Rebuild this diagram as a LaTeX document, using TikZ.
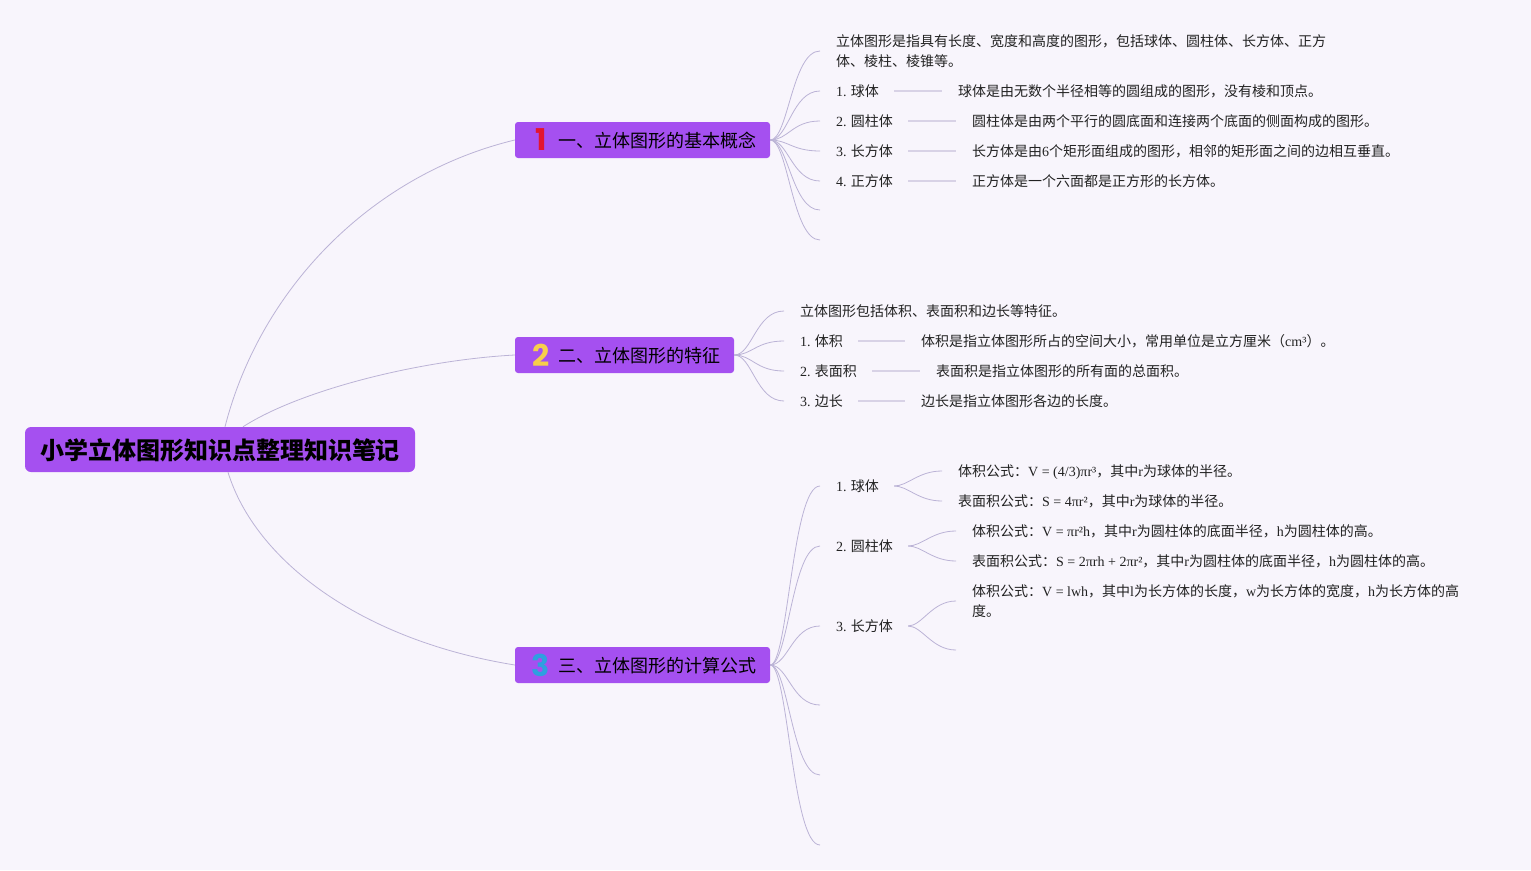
\documentclass[tikz,border=0pt]{standalone}
\usepackage{fontspec}
\setmainfont{Noto Sans CJK SC}
\newfontfamily\lat{Liberation Serif}
\newfontfamily\numfont{Poppins}
\usetikzlibrary{calc}
\definecolor{bg}{HTML}{F8F5FC}
\definecolor{boxc}{HTML}{A550F0}
\definecolor{linec}{HTML}{BBB3D6}
\definecolor{dashc}{HTML}{D8D2E6}
\definecolor{txt}{HTML}{222222}
\definecolor{numA}{HTML}{E3152F}
\definecolor{numB}{HTML}{F7CF4B}
\definecolor{numC}{HTML}{2E9FE0}
\begin{document}
\begin{tikzpicture}[x=1pt,y=-1pt,
 rootbox/.style={fill=boxc, rounded corners=6pt, minimum width=390pt, minimum height=45pt, inner sep=0pt,
   font=\fontsize{24}{28}\selectfont\bfseries, text=black, text height=19pt, text depth=0pt},
 branchbox/.style={fill=boxc, rounded corners=3pt, minimum height=36pt, inner sep=0pt},
 branchtxt/.style={anchor=west, inner sep=0pt, font=\fontsize{18}{22}\selectfont, text=black, text height=14.4pt, text depth=0pt},
 numtxt/.style={inner sep=0pt, font=\numfont\bfseries\fontsize{30}{30}\selectfont},
 leaf/.style={anchor=west, inner sep=0pt, font=\fontsize{14}{20}\selectfont, text=txt, align=left, text height=11.2pt, text depth=0pt},
 conn/.style={draw=linec, line width=0.8pt},
 dashline/.style={draw=dashc, line width=1.6pt},
]
\fill[bg] (0,0) rectangle (1531,870);
\useasboundingbox (0,0) rectangle (1531,870);

% root
\node[rootbox] (root) at (220,449.5) {小学立体图形知识点整理知识笔记};

% branches
\node[branchbox, minimum width=255pt] (b1) at (642.5,140) {};
\node[numtxt, text=numA] (n1) at (541,140) {1};
\node[branchtxt] (l1) at (558,140) {一、立体图形的基本概念};

\node[branchbox, minimum width=219pt] (b2) at (624.5,355) {};
\node[numtxt, text=numB] (n2) at (541,355) {2};
\node[branchtxt] (l2) at (558,355) {二、立体图形的特征};

\node[branchbox, minimum width=255pt] (b3) at (642.5,665) {};
\node[numtxt, text=numC] (n3) at (541,665) {3};
\node[branchtxt] (l3) at (558,665) {三、立体图形的计算公式};

% branch 1 children
\node[leaf] (c10) at (836,61) {立体图形是指具有长度、宽度和高度的图形，包括球体、圆柱体、长方体、正方\\体、棱柱、棱锥等。};
\node[leaf] (c11) at (836,91) {{\lat 1.} 球体};
\node[leaf] (t11) at (958,91) {球体是由无数个半径相等的圆组成的图形，没有棱和顶点。};
\node[leaf] (c12) at (836,121) {{\lat 2.} 圆柱体};
\node[leaf] (t12) at (972,121) {圆柱体是由两个平行的圆底面和连接两个底面的侧面构成的图形。};
\node[leaf] (c13) at (836,151) {{\lat 3.} 长方体};
\node[leaf] (t13) at (972,151) {长方体是由{\lat 6}个矩形面组成的图形，相邻的矩形面之间的边相互垂直。};
\node[leaf] (c14) at (836,181) {{\lat 4.} 正方体};
\node[leaf] (t14) at (972,181) {正方体是一个六面都是正方形的长方体。};
\coordinate (e15) at (820,210);
\coordinate (e16) at (820,240);

% branch 2 children
\node[leaf] (d10) at (800,311) {立体图形包括体积、表面积和边长等特征。};
\node[leaf] (d11) at (800,341) {{\lat 1.} 体积};
\node[leaf] (u11) at (921,341) {体积是指立体图形所占的空间大小，常用单位是立方厘米（{\lat cm³}）。};
\node[leaf] (d12) at (800,371) {{\lat 2.} 表面积};
\node[leaf] (u12) at (936,371) {表面积是指立体图形的所有面的总面积。};
\node[leaf] (d13) at (800,401) {{\lat 3.} 边长};
\node[leaf] (u13) at (921,401) {边长是指立体图形各边的长度。};

% branch 3 children
\node[leaf] (f11) at (836,486) {{\lat 1.} 球体};
\node[leaf] (g11) at (958,471) {体积公式：{\lat V = (4/3)πr³}，其中{\lat r}为球体的半径。};
\node[leaf] (g12) at (958,501) {表面积公式：{\lat S = 4πr²}，其中{\lat r}为球体的半径。};
\node[leaf] (f12) at (836,546) {{\lat 2.} 圆柱体};
\node[leaf] (g21) at (972,531) {体积公式：{\lat V = πr²h}，其中{\lat r}为圆柱体的底面半径，{\lat h}为圆柱体的高。};
\node[leaf] (g22) at (972,561) {表面积公式：{\lat S = 2πrh + 2πr²}，其中{\lat r}为圆柱体的底面半径，{\lat h}为圆柱体的高。};
\node[leaf] (f13) at (836,626) {{\lat 3.} 长方体};
\node[leaf] (g31) at (972,611) {体积公式：{\lat V = lwh}，其中{\lat l}为长方体的长度，{\lat w}为长方体的宽度，{\lat h}为长方体的高\\度。};
\coordinate (g32) at (956,650);
\coordinate (e34) at (820,705);
\coordinate (e35) at (820,775);
\coordinate (e36) at (820,845);

% root connectors
\draw[conn] ($(root.north)+(5,0)$) .. controls (260,290) and (370,175) .. (b1.west);
\draw[conn] ($(root.north)+(23,0)$) .. controls (300,390) and (420,360) .. (b2.west);
\draw[conn] ($(root.south)+(8,0)$) .. controls (255,560) and (360,640) .. (b3.west);

% branch 1 connectors
\draw[conn] (b1.east) .. controls +(18,0) and +(-28,0) .. ($(c10.west)+(-16,-10)$);
\foreach \n in {c11,c12,c13,c14}
  \draw[conn] (b1.east) .. controls +(18,0) and +(-28,0) .. ($(\n.west)+(-16,0)$);
\foreach \n in {e15,e16}
  \draw[conn] (b1.east) .. controls +(18,0) and +(-28,0) .. (\n);
\draw[dashline] ($(c11.east)+(15,0)$) -- ($(t11.west)+(-16,0)$);
\draw[dashline] ($(c12.east)+(15,0)$) -- ($(t12.west)+(-16,0)$);
\draw[dashline] ($(c13.east)+(15,0)$) -- ($(t13.west)+(-16,0)$);
\draw[dashline] ($(c14.east)+(15,0)$) -- ($(t14.west)+(-16,0)$);

% branch 2 connectors
\foreach \n in {d10,d11,d12,d13}
  \draw[conn] (b2.east) .. controls +(18,0) and +(-28,0) .. ($(\n.west)+(-16,0)$);
\draw[dashline] ($(d11.east)+(15,0)$) -- ($(u11.west)+(-16,0)$);
\draw[dashline] ($(d12.east)+(15,0)$) -- ($(u12.west)+(-16,0)$);
\draw[dashline] ($(d13.east)+(15,0)$) -- ($(u13.west)+(-16,0)$);

% branch 3 connectors
\foreach \n in {f11,f12,f13}
  \draw[conn] (b3.east) .. controls +(18,0) and +(-28,0) .. ($(\n.west)+(-16,0)$);
\foreach \n in {e34,e35,e36}
  \draw[conn] (b3.east) .. controls +(18,0) and +(-28,0) .. (\n);
\draw[conn] ($(f11.east)+(15,0)$) .. controls +(14,0) and +(-24,0) .. ($(g11.west)+(-16,0)$);
\draw[conn] ($(f11.east)+(15,0)$) .. controls +(14,0) and +(-24,0) .. ($(g12.west)+(-16,0)$);
\draw[conn] ($(f12.east)+(15,0)$) .. controls +(14,0) and +(-24,0) .. ($(g21.west)+(-16,0)$);
\draw[conn] ($(f12.east)+(15,0)$) .. controls +(14,0) and +(-24,0) .. ($(g22.west)+(-16,0)$);
\draw[conn] ($(f13.east)+(15,0)$) .. controls +(14,0) and +(-24,0) .. ($(g31.west)+(-16,-10)$);
\draw[conn] ($(f13.east)+(15,0)$) .. controls +(14,0) and +(-24,0) .. (g32);
\end{tikzpicture}
\end{document}
